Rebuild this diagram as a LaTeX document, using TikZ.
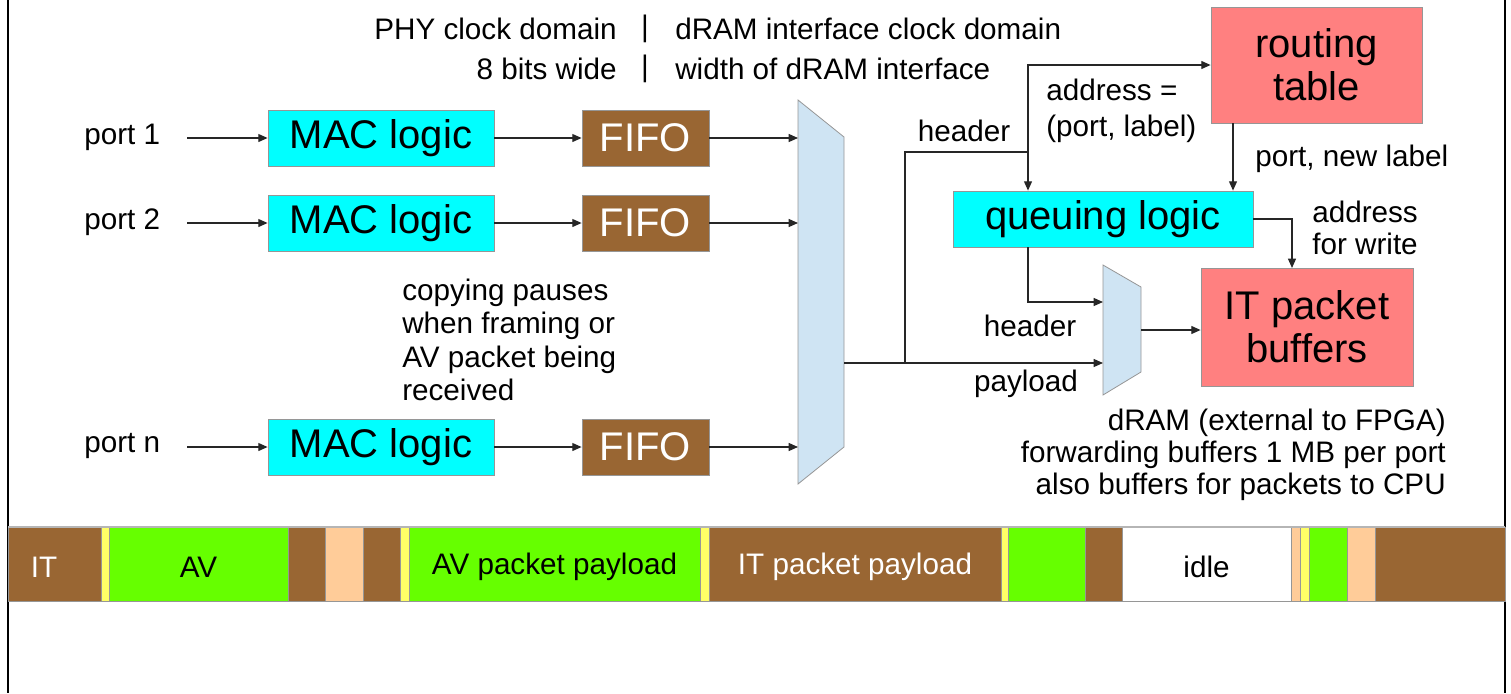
\documentclass[tikz,border=0pt]{standalone}
\usepackage{fontspec}
\setmainfont{Liberation Sans}
\usetikzlibrary{arrows.meta}
\definecolor{cyanbox}{RGB}{0,255,255}
\definecolor{brownbox}{RGB}{153,102,51}
\definecolor{pinkbox}{RGB}{255,128,128}
\definecolor{muxblue}{RGB}{207,228,243}
\definecolor{avgreen}{RGB}{102,255,0}
\definecolor{ylw}{RGB}{255,255,102}
\definecolor{peach}{RGB}{255,204,153}
\definecolor{edge}{RGB}{150,150,150}
\begin{document}
\begin{tikzpicture}[x=0.75pt,y=-0.75pt,
  small/.style={font=\fontsize{22.25}{25}\selectfont, inner sep=0pt},
  big/.style={font=\fontsize{30}{32.25}\selectfont, inner sep=0pt},
  blk/.style={draw=edge, line width=0.6pt, inner sep=0pt, big},
  macbox/.style={blk, fill=cyanbox, minimum width=169.5pt, minimum height=42pt},
  fifobox/.style={blk, fill=brownbox, text=white, minimum width=95.25pt, minimum height=42pt},
  conn/.style={draw=black!85, line width=0.9pt},
  arr/.style={conn, -{Triangle[length=7pt,width=6pt]}},
  seg/.style={draw=edge, line width=0.5pt},
  bartext/.style={font=\fontsize{22.25}{24}\selectfont, inner sep=0pt}
]
\path[use as bounding box] (0,0) rectangle (1511,693);
% frame sides
\draw[line width=1.5pt] (8,0) -- (8,693);
\draw[line width=1.5pt] (1505,0) -- (1505,693);

% header texts
\node[small, anchor=east] (h1l) at (617,29) {PHY clock domain};
\node[small] (h1m) at (645,29) {|};
\node[small, anchor=west] (h1r) at (675,29) {dRAM interface clock domain};
\node[small, anchor=east] (h2l) at (617,69) {8 bits wide};
\node[small] (h2m) at (645,69) {|};
\node[small, anchor=west] (h2r) at (675,69) {width of dRAM interface};

% ports
\node[small, anchor=west] (p1) at (84,137) {port 1};
\node[small, anchor=west] (p2) at (84,222) {port 2};
\node[small, anchor=west] (pn) at (84,446) {port n};

\node[macbox] (mac1) at (381,138) {MAC logic};
\node[macbox] (mac2) at (381,223) {MAC logic};
\node[macbox] (macn) at (381,447) {MAC logic};

\node[fifobox] (fifo1) at (645.5,138) {FIFO};
\node[fifobox] (fifo2) at (645.5,223) {FIFO};
\node[fifobox] (fifon) at (645.5,447) {FIFO};

% big mux
\filldraw[fill=muxblue, draw=edge, line width=0.6pt]
  (798,100) -- (844,137) -- (844,447) -- (798,484) -- cycle;
\coordinate (muxL) at (798,300);
\coordinate (muxout) at (844,363);

\draw[arr, shorten <=20pt] (p1.east |- mac1.west) -- (mac1.west);
\draw[arr, shorten <=20pt] (p2.east |- mac2.west) -- (mac2.west);
\draw[arr, shorten <=20pt] (pn.east |- macn.west) -- (macn.west);
\draw[arr] (mac1.east) -- (fifo1.west);
\draw[arr] (mac2.east) -- (fifo2.west);
\draw[arr] (macn.east) -- (fifon.west);
\draw[arr] (fifo1.east) -- (fifo1.east -| muxL);
\draw[arr] (fifo2.east) -- (fifo2.east -| muxL);
\draw[arr] (fifon.east) -- (fifon.east -| muxL);

% note
\node[small, align=left, anchor=west] (note) at (402,340)
  {copying pauses\\when framing or\\AV packet being\\received};

% right side blocks
\node[blk, fill=pinkbox, minimum width=158.25pt, minimum height=87pt, align=center] (rt) at (1316.5,65) {routing\\table};
\node[blk, fill=cyanbox, minimum width=225pt, minimum height=42pt] (queue) at (1103,219) {queuing logic};
\node[blk, fill=pinkbox, minimum width=159pt, minimum height=88.5pt, align=center] (itb) at (1307,327) {IT packet\\buffers};

% small mux
\filldraw[fill=muxblue, draw=edge, line width=0.6pt]
  (1103,265) -- (1141,287) -- (1141,372) -- (1103,395) -- cycle;
\coordinate (smL) at (1103,330);
\coordinate (smhdr) at (1103,302);
\coordinate (smout) at (1141,330);

% connectors right side
\coordinate (br) at (905,363);
\coordinate (j1) at (1028,152);
\coordinate (rtout) at (1233,123);
\coordinate (itin) at (1292,268);
\coordinate (qout) at (1028,247);

\draw[arr] (muxout) -- (muxout -| smL);
\draw[conn] (br) |- (j1);
\draw[arr] (j1) -- (j1 |- queue.north);
\draw[arr] (j1) |- (rt.west);
\draw[arr] (rtout) -- (rtout |- queue.north);
\draw[arr] (queue.east) -| (itin);
\draw[arr] (qout) |- (smhdr);
\draw[arr] (smout) -- (smout -| itb.west);

% labels right side
\node[small] (lhdr1) at (964,131) {header};
\node[small, align=left, anchor=west, font=\fontsize{22.25}{27}\selectfont] (laddr) at (1046,111) {address =\\(port, label)};
\node[small, anchor=west] (lnew) at (1255,159) {port, new label};
\node[small, align=left, anchor=west, font=\fontsize{22.25}{24}\selectfont] (lwr) at (1312,228) {address\\for write};
\node[small] (lhdr2) at (1030,326) {header};
\node[small] (lpay) at (1026,384) {payload};
\node[small, align=right, anchor=east, font=\fontsize{22.25}{24}\selectfont] (ldram) at (1446,455)
  {dRAM (external to FPGA)\\forwarding buffers 1 MB per port\\also buffers for packets to CPU};

% bottom bar
\foreach \a/\b/\c in {8/101/brownbox, 101/109/ylw, 109/288/avgreen, 288/325/brownbox,
  325/363/peach, 363/400/brownbox, 400/409/ylw, 409/700/avgreen, 700/709/ylw,
  709/1001/brownbox, 1001/1008/ylw, 1008/1085/avgreen, 1085/1122/brownbox,
  1122/1291/white, 1291/1300/peach, 1300/1309/ylw, 1309/1347/avgreen,
  1347/1375/peach, 1375/1505/brownbox}
  \filldraw[seg, fill=\c] (\a,527) rectangle (\b,601);
\draw[draw=edge!70, line width=0.8pt] (8,527) -- (1505,527);
\node[bartext, text=white] (bIT) at (44,567) {IT};
\node[bartext] (bAV) at (198.5,567) {AV};
\node[bartext] (bAVp) at (554.5,567) {AV packet payload};
\node[bartext, text=white] (bITp) at (855,567) {IT packet payload};
\node[bartext] (bidle) at (1206.5,567) {idle};
\end{tikzpicture}
\end{document}
